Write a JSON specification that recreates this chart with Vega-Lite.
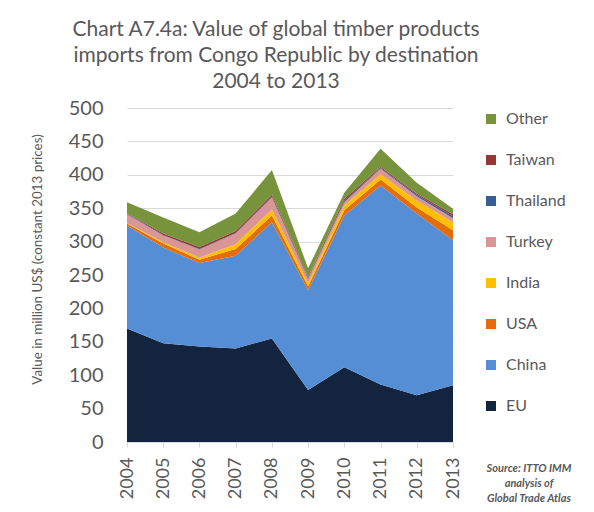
{
  "$schema": "https://vega.github.io/schema/vega-lite/v6.json",
  "width": 326,
  "height": 334,
  "autosize": {"type": "none"},
  "padding": {"left": 127, "top": 108, "right": 141, "bottom": 70},
  "config": {
    "font": "Lato",
    "view": {"stroke": null},
    "axis": {"labelColor": "#595959", "titleColor": "#595959", "gridColor": "#d9d9d9", "domainColor": "#d9d9d9", "tickColor": "#d9d9d9"}
  },
  "title": {
    "text": ["Chart A7.4a: Value of global timber products", "imports from Congo Republic by destination", "2004 to 2013"],
    "fontSize": 21,
    "fontWeight": "normal",
    "color": "#595959",
    "lineHeight": 26,
    "anchor": "middle",
    "frame": "group",
    "dx": -14,
    "offset": 6
  },
  "layer": [
    {
      "data": {
        "values": [
          {"year": 2004, "series": "EU", "value": 170}, {"year": 2005, "series": "EU", "value": 148}, {"year": 2006, "series": "EU", "value": 143}, {"year": 2007, "series": "EU", "value": 140}, {"year": 2008, "series": "EU", "value": 155}, {"year": 2009, "series": "EU", "value": 78}, {"year": 2010, "series": "EU", "value": 112}, {"year": 2011, "series": "EU", "value": 86}, {"year": 2012, "series": "EU", "value": 70}, {"year": 2013, "series": "EU", "value": 85},
          {"year": 2004, "series": "China", "value": 154}, {"year": 2005, "series": "China", "value": 143}, {"year": 2006, "series": "China", "value": 125}, {"year": 2007, "series": "China", "value": 139}, {"year": 2008, "series": "China", "value": 174}, {"year": 2009, "series": "China", "value": 149}, {"year": 2010, "series": "China", "value": 227}, {"year": 2011, "series": "China", "value": 298}, {"year": 2012, "series": "China", "value": 272}, {"year": 2013, "series": "China", "value": 217},
          {"year": 2004, "series": "USA", "value": 3}, {"year": 2005, "series": "USA", "value": 6}, {"year": 2006, "series": "USA", "value": 5}, {"year": 2007, "series": "USA", "value": 10}, {"year": 2008, "series": "USA", "value": 10}, {"year": 2009, "series": "USA", "value": 6}, {"year": 2010, "series": "USA", "value": 8}, {"year": 2011, "series": "USA", "value": 9}, {"year": 2012, "series": "USA", "value": 9}, {"year": 2013, "series": "USA", "value": 15},
          {"year": 2004, "series": "India", "value": 1}, {"year": 2005, "series": "India", "value": 2}, {"year": 2006, "series": "India", "value": 3}, {"year": 2007, "series": "India", "value": 7}, {"year": 2008, "series": "India", "value": 9}, {"year": 2009, "series": "India", "value": 5}, {"year": 2010, "series": "India", "value": 7}, {"year": 2011, "series": "India", "value": 8}, {"year": 2012, "series": "India", "value": 10}, {"year": 2013, "series": "India", "value": 12},
          {"year": 2004, "series": "Turkey", "value": 13}, {"year": 2005, "series": "Turkey", "value": 10}, {"year": 2006, "series": "Turkey", "value": 12}, {"year": 2007, "series": "Turkey", "value": 16}, {"year": 2008, "series": "Turkey", "value": 18}, {"year": 2009, "series": "Turkey", "value": 6}, {"year": 2010, "series": "Turkey", "value": 5}, {"year": 2011, "series": "Turkey", "value": 8}, {"year": 2012, "series": "Turkey", "value": 7}, {"year": 2013, "series": "Turkey", "value": 6},
          {"year": 2004, "series": "Thailand", "value": 1}, {"year": 2005, "series": "Thailand", "value": 1}, {"year": 2006, "series": "Thailand", "value": 1}, {"year": 2007, "series": "Thailand", "value": 1}, {"year": 2008, "series": "Thailand", "value": 1}, {"year": 2009, "series": "Thailand", "value": 1}, {"year": 2010, "series": "Thailand", "value": 2}, {"year": 2011, "series": "Thailand", "value": 1}, {"year": 2012, "series": "Thailand", "value": 2}, {"year": 2013, "series": "Thailand", "value": 3},
          {"year": 2004, "series": "Taiwan", "value": 1}, {"year": 2005, "series": "Taiwan", "value": 2}, {"year": 2006, "series": "Taiwan", "value": 3}, {"year": 2007, "series": "Taiwan", "value": 3}, {"year": 2008, "series": "Taiwan", "value": 3}, {"year": 2009, "series": "Taiwan", "value": 2}, {"year": 2010, "series": "Taiwan", "value": 3}, {"year": 2011, "series": "Taiwan", "value": 2}, {"year": 2012, "series": "Taiwan", "value": 2}, {"year": 2013, "series": "Taiwan", "value": 3},
          {"year": 2004, "series": "Other", "value": 16}, {"year": 2005, "series": "Other", "value": 24}, {"year": 2006, "series": "Other", "value": 22}, {"year": 2007, "series": "Other", "value": 26}, {"year": 2008, "series": "Other", "value": 37}, {"year": 2009, "series": "Other", "value": 13}, {"year": 2010, "series": "Other", "value": 9}, {"year": 2011, "series": "Other", "value": 27}, {"year": 2012, "series": "Other", "value": 16}, {"year": 2013, "series": "Other", "value": 8}
        ]
      },
      "transform": [
        {"calculate": "indexof(['EU','China','USA','India','Turkey','Thailand','Taiwan','Other'], datum.series)", "as": "stackOrder"}
      ],
      "mark": {"type": "area", "interpolate": "linear"},
      "encoding": {
        "x": {
          "field": "year", "type": "quantitative",
          "scale": {"domain": [2004, 2013], "nice": false, "zero": false},
          "axis": {"title": null, "values": [2004, 2005, 2006, 2007, 2008, 2009, 2010, 2011, 2012, 2013], "format": "d", "labelAngle": -90, "labelFontSize": 18, "grid": false, "tickSize": 5, "labelPadding": 10, "labelFlush": false, "labelOverlap": false}
        },
        "y": {
          "field": "value", "type": "quantitative", "stack": "zero",
          "scale": {"domain": [0, 500], "nice": false},
          "axis": {"title": "Value in million US$ (constant 2013 prices)", "titleFontSize": 13.4, "titleFontWeight": "normal", "titlePadding": 24, "titleY": 151, "values": [0, 50, 100, 150, 200, 250, 300, 350, 400, 450, 500], "labelFontSize": 20, "labelOverlap": false, "ticks": false, "domain": false, "labelPadding": 24}
        },
        "color": {
          "field": "series", "type": "nominal",
          "scale": {
            "domain": ["Other", "Taiwan", "Thailand", "Turkey", "India", "USA", "China", "EU"],
            "range": ["#77933c", "#953735", "#376092", "#d99694", "#ffc000", "#e46c0a", "#558ed5", "#13243f"]
          },
          "legend": {"title": null, "orient": "right", "offset": 27, "padding": 3, "symbolType": "square", "symbolSize": 100, "symbolStrokeWidth": 0, "labelFontSize": 16, "labelColor": "#595959", "labelOffset": 7, "rowPadding": 25}
        },
        "order": {"field": "stackOrder", "type": "quantitative", "sort": "ascending"}
      }
    },
    {
      "data": {"values": [{"note": "Source: ITTO IMM\nanalysis of\nGlobal Trade Atlas"}]},
      "mark": {"type": "text", "lineBreak": "\n", "fontStyle": "italic", "fontWeight": "bold", "fontSize": 11, "color": "#595959", "align": "center", "baseline": "middle", "lineHeight": 15, "dx": 76, "dy": 27},
      "encoding": {
        "x": {"datum": 2013, "type": "quantitative",
          "axis": {"title": null, "values": [2004, 2005, 2006, 2007, 2008, 2009, 2010, 2011, 2012, 2013], "format": "d", "labelAngle": -90, "labelFontSize": 18, "grid": false, "tickSize": 5, "labelPadding": 10, "labelFlush": false, "labelOverlap": false}},
        "y": {"datum": 0, "type": "quantitative",
          "axis": {"title": "Value in million US$ (constant 2013 prices)", "titleFontSize": 13.4, "titleFontWeight": "normal", "titlePadding": 24, "titleY": 151, "values": [0, 50, 100, 150, 200, 250, 300, 350, 400, 450, 500], "labelFontSize": 20, "labelOverlap": false, "ticks": false, "domain": false, "labelPadding": 24}},
        "text": {"field": "note"}
      }
    }
  ]
}
